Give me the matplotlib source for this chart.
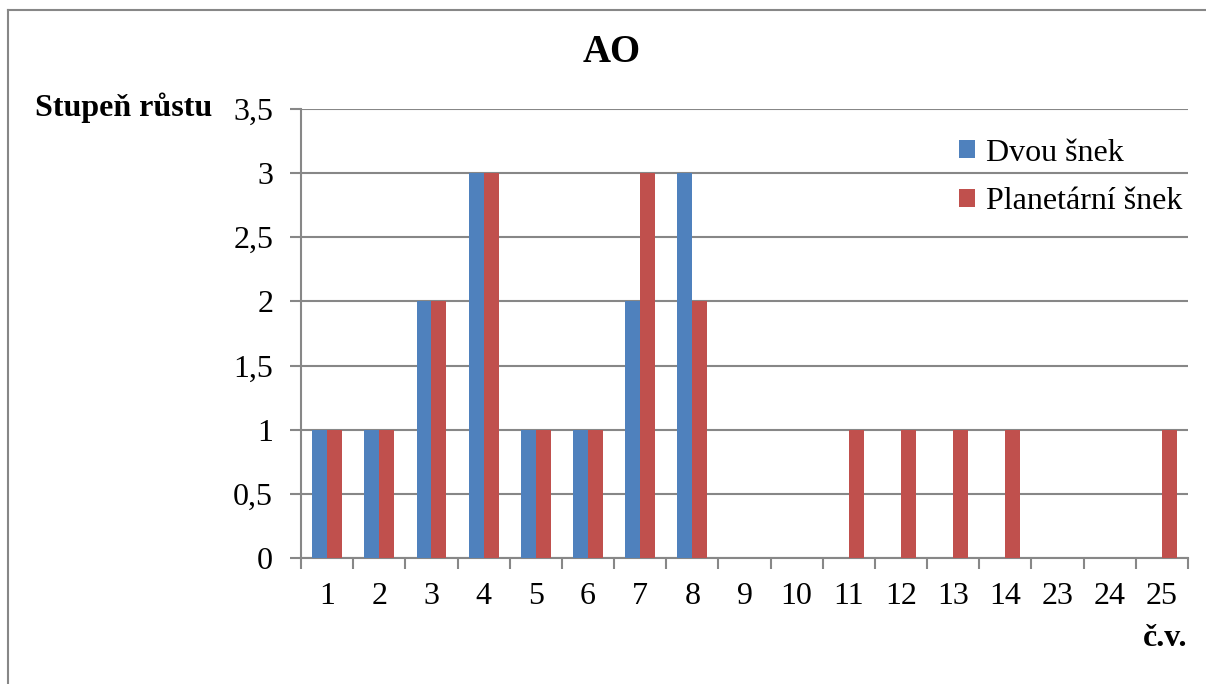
import numpy as np
import matplotlib
matplotlib.use('Agg')
import matplotlib.pyplot as plt
from matplotlib.lines import Line2D

plt.rcParams['font.family'] = ['Liberation Serif', 'DejaVu Serif']

categories = ['1', '2', '3', '4', '5', '6', '7', '8', '9', '10', '11', '12', '13', '14', '23', '24', '25']
dvou_snek = [1, 1, 2, 3, 1, 1, 2, 3, 0, 0, 0, 0, 0, 0, 0, 0, 0]
planetarni_snek = [1, 1, 2, 3, 1, 1, 3, 2, 0, 0, 1, 1, 1, 1, 0, 0, 1]
y_ticks = [0, 0.5, 1, 1.5, 2, 2.5, 3, 3.5]
y_labels = ['0', '0,5', '1', '1,5', '2', '2,5', '3', '3,5']

blue = '#4F81BD'
red = '#C0504D'
grid = '#878787'
fs = 23

fig = plt.figure(figsize=(12.06, 6.84), dpi=100)
ax = fig.add_axes([301 / 1206, 1 - 558 / 684, (1188 - 301) / 1206, (558 - 109) / 684])

x = np.arange(len(categories))
w = 1 / 3.5
ax.bar(x - w / 2, dvou_snek, width=w, color=blue, label='Dvou šnek', zorder=3)
ax.bar(x + w / 2, planetarni_snek, width=w, color=red, label='Planetární šnek', zorder=3)

ax.set_xlim(-0.5, len(categories) - 0.5)
ax.set_ylim(0, 3.5)
ax.set_yticks(y_ticks)
ax.set_yticklabels(y_labels, fontsize=fs)
ax.set_xticks(x)
ax.set_xticklabels(categories, fontsize=fs)
ax.tick_params(axis='x', length=0, pad=17)
ax.set_xticks(np.arange(len(categories) + 1) - 0.5, minor=True)
ax.tick_params(axis='x', which='minor', length=8, width=1.5, color=grid, direction='out')
ax.tick_params(axis='y', length=8, width=1.5, color=grid, pad=12)
ax.yaxis.grid(True, color=grid, linewidth=1.5, zorder=0)
for s in ['top', 'right']:
    ax.spines[s].set_visible(False)
for s in ['left', 'bottom']:
    ax.spines[s].set_color(grid)
    ax.spines[s].set_linewidth(1.5)

ax.legend(loc='upper right', bbox_to_anchor=(1.026, 0.998), frameon=False, fontsize=fs,
          handlelength=0.5, handleheight=0.5, handletextpad=0.35, labelspacing=0.62)

fig.text(612 / 1206, 1 - 52 / 684, 'AO', fontsize=28, fontweight='bold', ha='center', va='center')
fig.text(35 / 1206, 1 - 108 / 684, 'Stupeň růstu', fontsize=fs, fontweight='bold', ha='left', va='center')
fig.text(1187 / 1206, 1 - 638 / 684, 'č.v.', fontsize=fs, fontweight='bold', ha='right', va='center')

# outer frame (left and top edges only visible)
fig.add_artist(Line2D([8 / 1206, 8 / 1206], [0, 1 - 10 / 684], color=grid, linewidth=1.5,
                      transform=fig.transFigure))
fig.add_artist(Line2D([8 / 1206, 1], [1 - 10 / 684, 1 - 10 / 684], color=grid, linewidth=1.5,
                      transform=fig.transFigure))

fig.savefig('out.png', dpi=100)
